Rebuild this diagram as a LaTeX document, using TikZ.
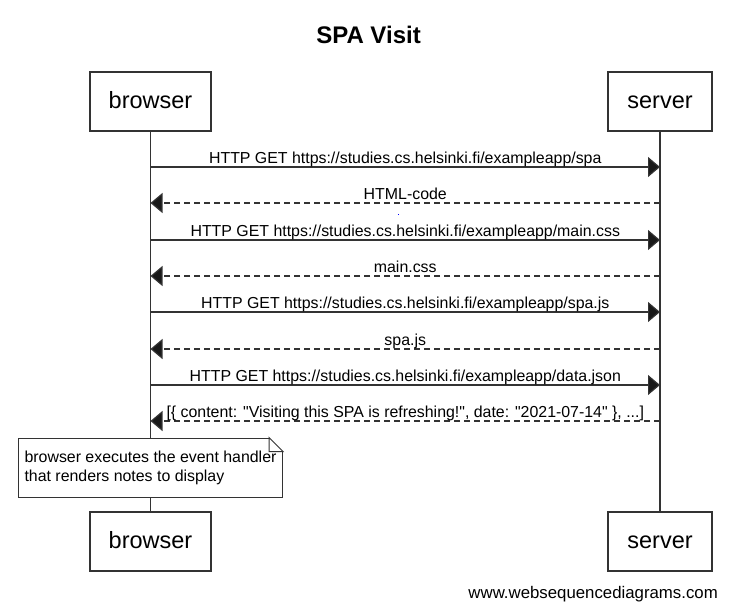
\documentclass[tikz,border=0pt]{standalone}
\usepackage{fontspec}
\setmainfont{Liberation Sans}
\usetikzlibrary{arrows.meta}

\begin{document}
\begin{tikzpicture}[x=1pt,y=-1pt,
  actor/.style={draw=black!80,line width=1.2pt,fill=white,minimum height=59pt,inner sep=0pt,text height=18.6pt,text depth=5pt,font=\fontsize{23.5}{28}\selectfont},
  life/.style={draw=black!80,line width=1.2pt},
  msg/.style={draw=black!80,line width=1.2pt,-{Triangle[length=12pt,width=20pt,fill=black!90]}},
  reply/.style={msg,dash pattern=on 6pt off 4pt},
  lbl/.style={font=\fontsize{15.9}{19}\selectfont,anchor=base,yshift=3.5pt,inner sep=0pt},
  notebox/.style={draw=black!80,line width=1pt,fill=white,minimum width=264pt,minimum height=59pt,inner sep=0pt,align=left,font=\fontsize{15.9}{19}\selectfont}]
\useasboundingbox (0,0) rectangle (735,615);
\node[font=\bfseries\fontsize{24}{29}\selectfont,anchor=base] (title) at (368.5,43.3) {SPA Visit};

% participants
\node[actor,minimum width=121pt] (browser) at (150.5,101.5) {browser};
\node[actor,minimum width=104pt] (server) at (660,101.5) {server};
\node[actor,minimum width=121pt] (browserend) at (150.5,541.5) {browser};
\node[actor,minimum width=104pt] (serverend) at (660,541.5) {server};

% note over browser
\node[notebox] (note) at (150.5,467.5) {browser executes the event handler\\that renders notes to display};
\fill[white] ([xshift=-14pt]note.north east) -- (note.north east) -- ([yshift=-14pt]note.north east) -- cycle;
\draw[draw=black!80,line width=1pt] ([xshift=-14pt]note.north east) -- ([yshift=-14pt]note.north east) -- ([xshift=-14pt,yshift=-14pt]note.north east) -- cycle;

% lifelines
\draw[life] (browser) -- (note);
\draw[life] (note) -- (browserend);
\draw[life] (server) -- (serverend);

% message ends on the lifelines
\coordinate (b1) at (150.5,167); \coordinate (s1) at (660,167);
\coordinate (b2) at (150.5,203); \coordinate (s2) at (660,203);
\coordinate (b3) at (150.5,240); \coordinate (s3) at (660,240);
\coordinate (b4) at (150.5,276); \coordinate (s4) at (660,276);
\coordinate (b5) at (150.5,312); \coordinate (s5) at (660,312);
\coordinate (b6) at (150.5,349); \coordinate (s6) at (660,349);
\coordinate (b7) at (150.5,385); \coordinate (s7) at (660,385);
\coordinate (b8) at (150.5,421); \coordinate (s8) at (660,421);

\draw[msg] (b1) -- node[lbl] (m1) {HTTP GET https://studies.cs.helsinki.fi/exampleapp/spa} (s1);
\draw[reply] (s2) -- node[lbl] (m2) {HTML-code} (b2);
\fill[blue] (397.5,213.5) rectangle (399,215);
\draw[msg] (b3) -- node[lbl] (m3) {HTTP GET https://studies.cs.helsinki.fi/exampleapp/main.css} (s3);
\draw[reply] (s4) -- node[lbl] (m4) {main.css} (b4);
\draw[msg] (b5) -- node[lbl] (m5) {HTTP GET https://studies.cs.helsinki.fi/exampleapp/spa.js} (s5);
\draw[reply] (s6) -- node[lbl] (m6) {spa.js} (b6);
\draw[msg] (b7) -- node[lbl] (m7) {HTTP GET https://studies.cs.helsinki.fi/exampleapp/data.json} (s7);
\draw[reply] (s8) -- node[lbl] (m8) {[\{ content: \textquotedbl Visiting this SPA is refreshing!\textquotedbl, date: \textquotedbl 2021-07-14\textquotedbl{} \}, ...]} (b8);

\node[font=\fontsize{16.8}{20}\selectfont,anchor=base east,inner sep=0pt] (credit) at (718,598.3) {www.websequencediagrams.com};
\end{tikzpicture}
\end{document}
